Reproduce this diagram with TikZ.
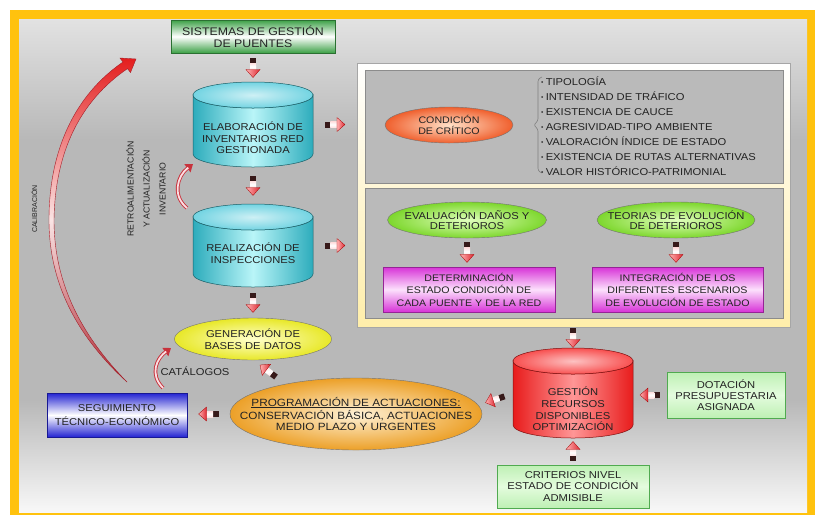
\documentclass[tikz,border=0pt]{standalone}
\usepackage{fontspec}
\setmainfont{Liberation Sans}[FakeStretch=1.12]
\newfontfamily\rotf{Liberation Sans}
\usetikzlibrary{shapes.geometric,arrows.meta}
\definecolor{frameY}{RGB}{255,194,14}
\definecolor{bgT}{RGB}{226,226,226}
\definecolor{bgM}{RGB}{184,184,184}
\definecolor{bgB}{RGB}{248,248,248}
\definecolor{txt}{RGB}{35,35,35}
\definecolor{cyD}{RGB}{45,172,188}
\definecolor{cyL}{RGB}{185,245,248}
\definecolor{cyT}{RGB}{115,212,226}
\definecolor{rdD}{RGB}{232,28,28}
\definecolor{rdL}{RGB}{255,150,150}
\definecolor{rdT}{RGB}{248,80,80}
\definecolor{sisG}{RGB}{60,160,70}
\definecolor{lgF}{RGB}{190,240,180}
\definecolor{lgM}{RGB}{228,252,222}
\definecolor{lgD}{RGB}{80,170,80}
\definecolor{bluD}{RGB}{35,35,210}
\definecolor{magD}{RGB}{215,50,215}
\definecolor{magL}{RGB}{252,225,252}
\definecolor{orD}{RGB}{240,95,45}
\definecolor{orL}{RGB}{255,225,200}
\definecolor{gnD}{RGB}{125,215,45}
\definecolor{gnL}{RGB}{225,255,190}
\definecolor{yeD}{RGB}{232,232,40}
\definecolor{yeL}{RGB}{255,255,205}
\definecolor{pgD}{RGB}{236,160,40}
\definecolor{pgL}{RGB}{255,242,215}
\definecolor{panY}{RGB}{255,238,170}
\definecolor{pnG}{RGB}{186,186,186}
\definecolor{clT}{RGB}{228,30,30}
\definecolor{clM}{RGB}{250,228,228}
\definecolor{clB}{RGB}{175,45,55}
\definecolor{clO}{RGB}{165,30,40}
\definecolor{arD}{RGB}{55,25,25}
\definecolor{arR}{RGB}{222,40,50}
\definecolor{cvO}{RGB}{200,50,60}
\definecolor{cvI}{RGB}{250,222,226}

\tikzset{barrow/.pic={
  \fill[arD] (-10,-3) rectangle (-4.5,3);
  \shade[top color=red!12!white, bottom color=red!12!white, middle color=white] (-4.5,-3) rectangle (2.5,3);
  \shade[left color=red!30!white, right color=arR, draw=red!65!black, line width=0.3pt] (2,-7) -- (10,0) -- (2,7) -- cycle;
}}

\newcommand\mycyl[6]{%
  \path[draw=#4!55!black, line width=0.5pt, left color=#4, right color=#4, middle color=#5]
    ({#1-60},{#2+13}) -- ({#1-60},{#3-13})
    arc[start angle=180, end angle=360, x radius=60pt, y radius=13pt]
    -- ({#1+60},{#2+13})
    arc[start angle=0, end angle=-180, x radius=60pt, y radius=13pt] -- cycle;
  \path[draw=#4!55!black, line width=0.5pt, inner color=#6!35!white, outer color=#6]
    (#1,{#2+13}) ellipse[x radius=60pt, y radius=13pt];
}

\begin{document}
\begin{tikzpicture}[x=1pt,y=-1pt,
  every node/.style={text=txt, inner sep=0pt, align=center},
  onpath/.style={midway, sloped, allow upside down},
  t10/.style={font=\fontsize{10}{11.5}\selectfont},
  ell/.style={ellipse, draw=black!55, line width=0.4pt},
  holder/.style={rectangle, inner sep=0pt},
  sisbox/.style={rectangle, draw=sisG!70!black, line width=0.6pt, top color=sisG, bottom color=sisG, middle color=white},
  segbox/.style={rectangle, draw=bluD!70!black, line width=0.6pt, top color=bluD, bottom color=bluD, middle color=white},
  magbox/.style={rectangle, draw=magD!70!black, line width=0.6pt, top color=magD, bottom color=magD, middle color=magL},
  lgbox/.style={rectangle, draw=lgD, line width=0.6pt, top color=lgF, bottom color=lgF, middle color=lgM},
  cvout/.style={line width=3.6pt, draw=cvO, -{Triangle[length=7pt,width=10pt]}},
  cvin/.style={line width=1.8pt, draw=cvI, shorten >=6pt}
]
\useasboundingbox (0,0) rectangle (818,515);
% background and frame
\fill[white] (0,0) rectangle (818,515);
\fill[frameY] (10,10) rectangle (815,515);
\shade[top color=bgT, bottom color=bgM] (19,19) rectangle (807,140);
\fill[bgM] (19,139.5) rectangle (807,400.5);
\shade[top color=bgM, bottom color=bgB] (19,400) rectangle (807,512);

% calibration arc
\shade[top color=clT, bottom color=clB, middle color=clM, draw=clO, line width=0.4pt]
 (127,382) .. controls (70,330) and (49,275) .. (49,220)
 .. controls (49,150) and (75,95) .. (123,62)
 -- (120,58) -- (136,59) -- (130.5,72.5) -- (127.5,68.6)
 .. controls (80,101) and (55,152) .. (54,220)
 .. controls (54,273) and (73,327) .. (127,382) -- cycle;
\node[rotate=90, font=\rotf\fontsize{7}{8}\selectfont] (calib) at (34,209) {CALIBRACIÓN};

% top box
\node[sisbox, minimum width=164pt, minimum height=33pt, font=\fontsize{11}{11.7}\selectfont] (sis) at (253,36.5) {SISTEMAS DE GESTIÓN\\DE PUENTES};

% cylinders
\mycyl{253}{82}{167}{cyD}{cyL}{cyT}
\node[holder, minimum width=120pt, minimum height=85pt] (cylA) at (253,124.5) {};
\node[t10] (cylAt) at (253,138) {ELABORACIÓN DE\\INVENTARIOS RED\\GESTIONADA};
\mycyl{253}{204}{287}{cyD}{cyL}{cyT}
\node[holder, minimum width=120pt, minimum height=83pt] (cylB) at (253,245.5) {};
\node[t10] (cylBt) at (253,253) {REALIZACIÓN DE\\INSPECCIONES};

\node[rotate=90, font=\rotf\fontsize{8.7}{16}\selectfont] (retro) at (146,189) {RETROALIMENTACIÓN\\Y ACTUALIZACIÓN\\INVENTARIO};

% big panel
\node[rectangle, draw=black!35, line width=0.6pt, top color=white, bottom color=panY, minimum width=433pt, minimum height=264pt] (panel) at (573.5,195) {};
\node[rectangle, draw=black!45, line width=0.5pt, fill=pnG, minimum width=418pt, minimum height=113pt] (p1) at (574,126.5) {};
\node[rectangle, draw=black!45, line width=0.5pt, fill=pnG, minimum width=418pt, minimum height=130pt] (p2) at (574,253) {};

\node[ell, inner color=orL, outer color=orD, minimum width=128pt, minimum height=36pt] (cond) at (449,125) {};
\node[font=\fontsize{9.5}{10.5}\selectfont] (condt) at (449,125) {CONDICIÓN\\DE CRÍTICO};
\draw[black!50, line width=0.6pt, rounded corners=2.5pt] (542,77) -- (538,79) -- (538,121) -- (533.5,125) -- (538,129) -- (538,171) -- (542,173);
\foreach \i/\yy/\tx in {1/85/TIPOLOGÍA, 2/100.7/INTENSIDAD DE TRÁFICO, 3/115.7/EXISTENCIA DE CAUCE, 4/130.7/AGRESIVIDAD-TIPO AMBIENTE, 5/145.7/VALORACIÓN ÍNDICE DE ESTADO, 6/160/EXISTENCIA DE RUTAS ALTERNATIVAS, 7/175/VALOR HISTÓRICO-PATRIMONIAL}
  \node[anchor=base west, font=\fontsize{10}{12}\selectfont] (item\i) at (541,\yy) {\raisebox{1pt}{\fontsize{6}{6}\selectfont •}\hspace{2.2pt}\tx};

\node[ell, inner color=gnL, outer color=gnD, minimum width=159pt, minimum height=36pt] (eval) at (467,220) {};
\node[font=\fontsize{10}{10.5}\selectfont] (evalt) at (467,220) {EVALUACIÓN DAÑOS Y\\DETERIOROS};
\node[ell, inner color=gnL, outer color=gnD, minimum width=158pt, minimum height=36pt] (teo) at (676,220) {};
\node[font=\fontsize{10}{10.5}\selectfont] (teot) at (676,220) {TEORIAS DE EVOLUCIÓN\\DE DETERIOROS};
\node[magbox, minimum width=172pt, minimum height=45pt, font=\fontsize{9.5}{12.5}\selectfont] (det) at (469,289.5) {DETERMINACIÓN\\ESTADO CONDICIÓN DE\\CADA PUENTE Y DE LA RED};
\node[magbox, minimum width=171pt, minimum height=45pt, font=\fontsize{9.5}{12.5}\selectfont] (int) at (677.5,289.5) {INTEGRACIÓN DE LOS\\DIFERENTES ESCENARIOS\\DE EVOLUCIÓN DE ESTADO};

% database generation
\node[ell, inner color=yeL, outer color=yeD, minimum width=157pt, minimum height=42pt] (gen) at (253,339) {};
\node[t10] (gent) at (gen) {GENERACIÓN DE\\BASES DE DATOS};
\node[font=\fontsize{10}{12}\selectfont] (cat) at (195,371.5) {CATÁLOGOS};

% programming
\node[ell, inner color=pgL, outer color=pgD, minimum width=252pt, minimum height=72pt] (prog) at (356,414) {};
\node[font=\fontsize{10.5}{11}\selectfont] (progt) at (356,414) {\underline{PROGRAMACIÓN DE ACTUACIONES:}\\[1.5pt]CONSERVACIÓN BÁSICA, ACTUACIONES\\MEDIO PLAZO Y URGENTES};
\node[segbox, minimum width=140pt, minimum height=44pt, font=\fontsize{10}{13.3}\selectfont] (seg) at (117,415) {SEGUIMIENTO\\TÉCNICO-ECONÓMICO};

% resources
\mycyl{573}{348}{438}{rdD}{rdL}{rdT}
\node[holder, minimum width=120pt, minimum height=90pt] (gest) at (573,393) {};
\node[font=\fontsize{10}{11.7}\selectfont] (gestt) at (573,409) {GESTIÓN\\RECURSOS\\DISPONIBLES\\OPTIMIZACIÓN};
\node[lgbox, minimum width=118pt, minimum height=46pt, font=\fontsize{10}{11}\selectfont] (dot) at (726,395) {DOTACIÓN\\PRESUPUESTARIA\\ASIGNADA};
\node[lgbox, minimum width=152pt, minimum height=43pt, font=\fontsize{10}{11.7}\selectfont] (crit) at (573,486.5) {CRITERIOS NIVEL\\ESTADO DE CONDICIÓN\\ADMISIBLE};

% block arrows
\path (sis) -- (cylA) pic[onpath]{barrow};
\path (cylA) -- (cylB) pic[onpath]{barrow};
\path (cylB) -- (gen) pic[onpath]{barrow};
\path (cylA.east) -- (cylA.east -| panel.west) pic[onpath]{barrow};
\path (cylB.east) -- (cylB.east -| panel.west) pic[onpath]{barrow};
\path (eval.south) -- (eval.south |- det.north) pic[onpath]{barrow};
\path (teo.south) -- (teo.south |- int.north) pic[onpath]{barrow};
\path (panel.south -| gest.north) -- (gest.north) pic[onpath]{barrow};
\path (crit.north) -- (gest.south) pic[onpath]{barrow};
\path (dot.west) -- (dot.west -| gest.east) pic[onpath]{barrow};
\path ([shift={(-66,2.5)}]gest.center) -- ([shift={(127,-10.5)}]prog.center) pic[onpath]{barrow};
\path (prog.west) -- (prog.west -| seg.east) pic[onpath]{barrow};
\path ([shift={(-76,-34)}]prog.center) -- ([shift={(3,23)}]gen.center) pic[onpath]{barrow};

% curved arrows
\draw[cvout] ([shift={(-66,-37.5)}]cylB.center) .. controls +(-15,-12) and +(-16,12) .. ([shift={(-60,39.5)}]cylA.center);
\draw[cvin] ([shift={(-66,-37.5)}]cylB.center) .. controls +(-15,-12) and +(-16,12) .. ([shift={(-60,39.5)}]cylA.center);
\draw[cvout] ([shift={(46,-27)}]seg.center) .. controls +(-14,-14) and +(-14,10) .. ([shift={(-82,9)}]gen.center);
\draw[cvin] ([shift={(46,-27)}]seg.center) .. controls +(-14,-14) and +(-14,10) .. ([shift={(-82,9)}]gen.center);
\end{tikzpicture}
\end{document}
